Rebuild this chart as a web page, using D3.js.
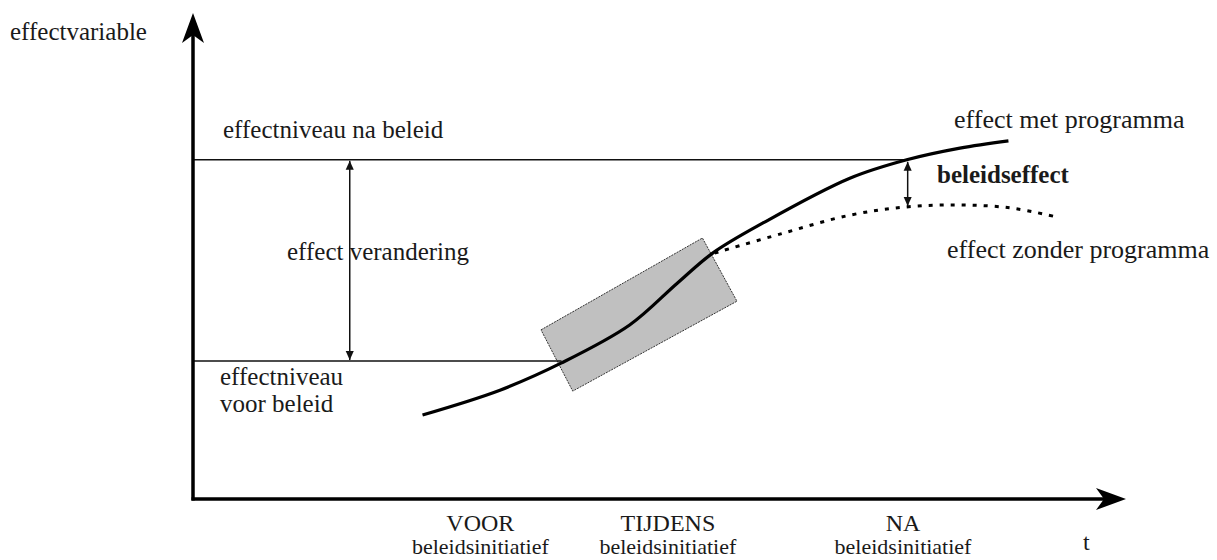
<!DOCTYPE html>
<html>
<head>
<meta charset="utf-8">
<script src="https://cdn.jsdelivr.net/npm/d3@7"></script>
<style>
  body { margin: 0; background: #fff; }
  text { font-family: "Liberation Serif", "Times New Roman", "DejaVu Serif", serif; fill: #1a1a1a; }
</style>
</head>
<body>
<div id="chartContainer"></div>
<script>

var config = {
  w: 1217,
  h: 560,
  left: 193,
  right: 91,
  top: 13,
  bot: 61
}

// effect with programme (t, effect)
var withProgramT = [24.6, 32.9, 39.5, 46.8, 51.9, 55.7, 61.1, 70.4, 76.5, 82.2, 87.4];
var withProgramY = [17.3, 22.4, 28.0, 35.8, 44.4, 50.6, 56.8, 66.0, 69.8, 72.2, 73.7];

// effect without programme
var withoutProgramT = [55.9, 62.9, 70.4, 76.5, 82.2, 87.6, 92.2];
var withoutProgramY = [50.6, 54.5, 58.4, 60.1, 60.5, 59.9, 58.2];

// levels before / after policy
var levelBefore = 28.4,
    levelAfter = 69.8,
    levelBeforeEndT = 39.5,
    levelAfterEndT = 76.5,
    changeArrowT = 16.8,
    policyEffectT = 76.6,
    policyEffectLow = 60.1;

// the grey "during" box (corners)
var boxT = [37.3, 54.6, 58.3, 40.7];
var boxY = [34.8, 53.7, 40.7, 22.2];

// phases along the time axis
var phaseLabels = ["VOOR", "TIJDENS", "NA"];
var phaseT = [30.8, 50.9, 76.1];

var svg = d3.select("#chartContainer").append("svg")
  .attr("width", config.w)
  .attr("height", config.h);

var x = d3.scaleLinear()
  .domain([0, 100])
  .range([config.left, config.w - config.right]);

var y = d3.scaleLinear()
  .domain([0, 100])
  .range([config.h - config.bot, config.top]);

var defs = svg.append("defs");

// small filled triangle for the double arrows
defs.append("marker")
  .attr("id", "tri")
  .attr("viewBox", "0 0 10 10")
  .attr("refX", 10).attr("refY", 5)
  .attr("markerWidth", 9).attr("markerHeight", 10)
  .attr("markerUnits", "userSpaceOnUse")
  .attr("orient", "auto-start-reverse")
  .append("path")
  .attr("d", "M0,0.5 L10,5 L0,9.5 Z")
  .style("fill", "#111");

// box behind the curve
var boxPts = d3.range(boxT.length).map(function(i) { return [x(boxT[i]), y(boxY[i])]; });
svg.append("polygon")
  .attr("points", boxPts.map(function(p) { return p.join(","); }).join(" "))
  .style("fill", "#c0c0c0")
  .style("stroke", "#333")
  .style("stroke-width", 1)
  .style("stroke-dasharray", "2,1");

// level lines
svg.append("line")
  .attr("x1", x(0)).attr("x2", x(levelAfterEndT))
  .attr("y1", y(levelAfter)).attr("y2", y(levelAfter))
  .style("stroke", "#111").style("stroke-width", 1.5);

svg.append("line")
  .attr("x1", x(0)).attr("x2", x(levelBeforeEndT))
  .attr("y1", y(levelBefore)).attr("y2", y(levelBefore))
  .style("stroke", "#111").style("stroke-width", 1.5);

// effect change double arrow
svg.append("line")
  .attr("x1", x(changeArrowT)).attr("x2", x(changeArrowT))
  .attr("y1", y(levelBefore) - 1).attr("y2", y(levelAfter) + 1)
  .attr("marker-start", "url(#tri)")
  .attr("marker-end", "url(#tri)")
  .style("stroke", "#111").style("stroke-width", 1.5);

// policy effect double arrow
svg.append("line")
  .attr("x1", x(policyEffectT)).attr("x2", x(policyEffectT))
  .attr("y1", y(policyEffectLow) - 1).attr("y2", y(levelAfter) + 2)
  .attr("marker-start", "url(#tri)")
  .attr("marker-end", "url(#tri)")
  .style("stroke", "#111").style("stroke-width", 1.5);

var line = d3.line()
  .x(function(d) { return x(d[0]); })
  .y(function(d) { return y(d[1]); })
  .curve(d3.curveCatmullRom);

svg.append("path")
  .datum(d3.zip(withoutProgramT, withoutProgramY))
  .attr("d", line)
  .style("fill", "none")
  .style("stroke", "#000")
  .style("stroke-width", 3)
  .style("stroke-dasharray", "4,7");

svg.append("path")
  .datum(d3.zip(withProgramT, withProgramY))
  .attr("d", line)
  .style("fill", "none")
  .style("stroke", "#000")
  .style("stroke-width", 3.2);

// axes (line stops at the arrow's notch)
svg.append("line")
  .attr("x1", x(0)).attr("x2", x(0))
  .attr("y1", y(0) + 1.5).attr("y2", y(100) + 20)
  .style("stroke", "#000").style("stroke-width", 3.5);

svg.append("line")
  .attr("x1", x(0) - 1.5).attr("x2", x(100) - 20)
  .attr("y1", y(0)).attr("y2", y(0))
  .style("stroke", "#000").style("stroke-width", 3.5);

// stealth arrowheads, tip at origin pointing right
var arrowHead = "M0,0 L-30,-11 L-22,0 L-30,11 Z";

svg.append("path")
  .attr("d", arrowHead)
  .attr("transform", "translate(" + x(0) + "," + y(100) + ") rotate(-90)")
  .style("fill", "#000");

svg.append("path")
  .attr("d", arrowHead)
  .attr("transform", "translate(" + x(100) + "," + y(0) + ")")
  .style("fill", "#000");

// labels
var labels = svg.append("g").attr("class", "labels");

function addText(txt, px, py, size, weight) {
  return labels.append("text")
    .attr("x", px).attr("y", py)
    .style("font-size", size + "px")
    .style("font-weight", weight || "normal")
    .text(txt);
}

addText("effectvariable", 10, 40, 25);
addText("effectniveau na beleid", 223, 138, 25);
addText("effect verandering", 287, 260, 25);
addText("effectniveau", 220, 385, 25);
addText("voor beleid", 220, 412, 25);
addText("effect met programma", 954, 128, 26);
addText("beleidseffect", 937, 183, 25, "bold");
addText("effect zonder programma", 947, 258, 26);
addText("t", 1083, 550, 24);

var phase = labels.selectAll(".phase")
  .data(phaseLabels)
  .enter().append("g")
  .attr("class", "phase")
  .attr("transform", function(d, i) { return "translate(" + x(phaseT[i]) + ",0)"; });

phase.append("text")
  .attr("y", 531)
  .attr("text-anchor", "middle")
  .style("font-size", "24px")
  .text(function(d) { return d; });

phase.append("text")
  .attr("y", 554)
  .attr("text-anchor", "middle")
  .style("font-size", "22px")
  .text("beleidsinitiatief");

</script>
</body>
</html>
